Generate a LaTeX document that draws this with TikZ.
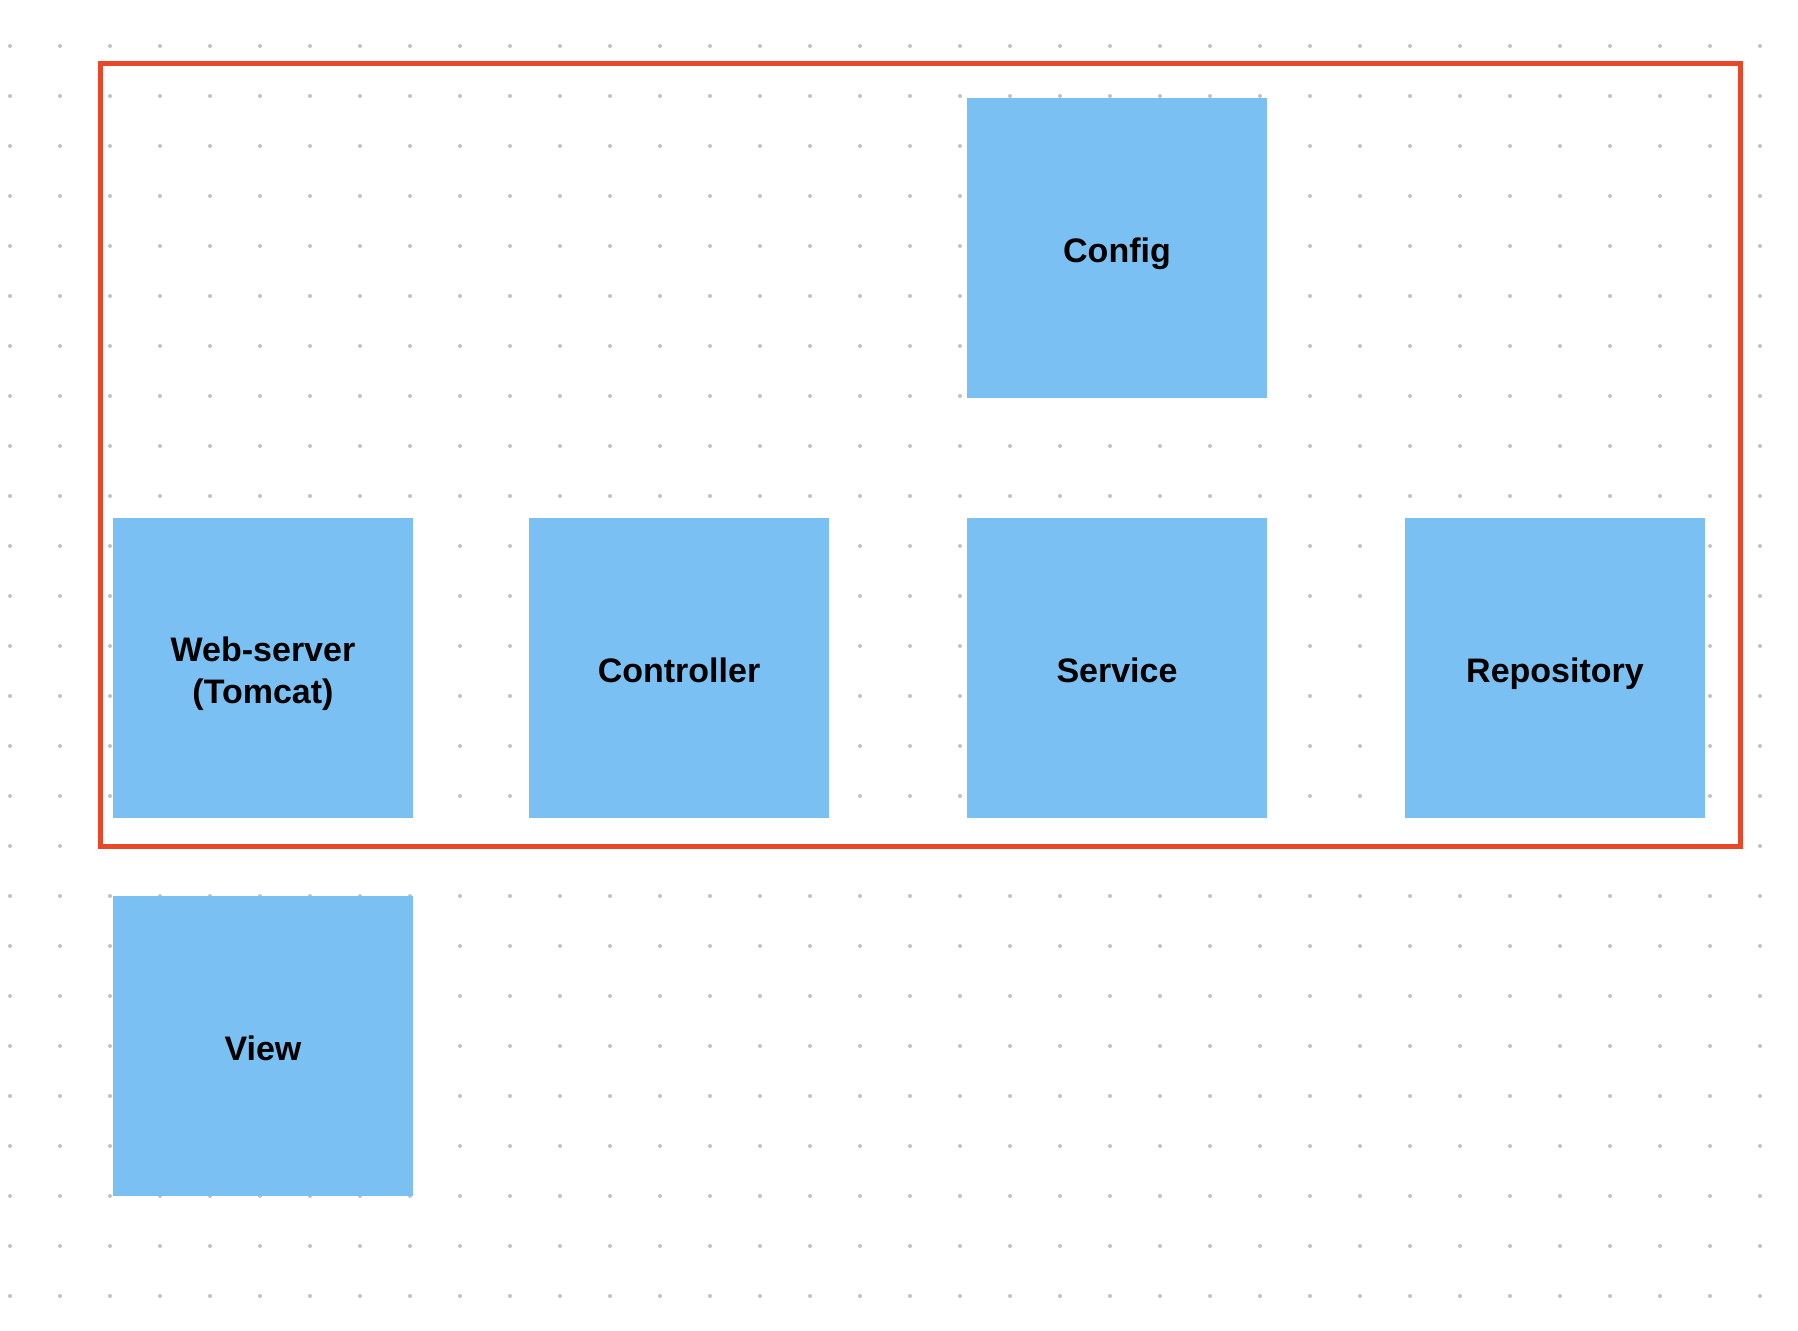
\documentclass[tikz,border=0pt]{standalone}
\usepackage{fontspec}
\setmainfont{Liberation Sans}
\definecolor{boxblue}{HTML}{7AC0F2}
\definecolor{framered}{HTML}{E8472A}
\definecolor{dotgray}{HTML}{C2C2C2}
\tikzset{
  layer/.style={fill=boxblue, draw=none, minimum width=300pt, minimum height=300pt,
    inner sep=0pt, align=center, font=\fontsize{34}{42}\selectfont\bfseries, text=black,
    text height=28.4pt, text depth=0pt},
  frame/.style={draw=framered, line width=5pt}
}
\begin{document}
\begin{tikzpicture}[x=1pt,y=-1pt]
\useasboundingbox (0,0) rectangle (1798,1330);
\fill[white] (0,0) rectangle (1798,1330);
\foreach \i in {0,...,35}{
  \foreach \j in {0,...,25}{
    \fill[dotgray] (10+50*\i,46+50*\j) circle (2pt);
  }
}
\node[layer] (config) at (1117,248) {Config};
\node[layer, text height=70.4pt] (web) at (263,668) {Web-server\\(Tomcat)};
\node[layer] (controller) at (679,668) {Controller};
\node[layer] (service) at (1117,668) {Service};
\node[layer] (repo) at (1555,668) {Repository};
\node[layer] (view) at (263,1046) {View};
\draw[frame] (100,64) rectangle (1740,846);
\end{tikzpicture}
\end{document}
